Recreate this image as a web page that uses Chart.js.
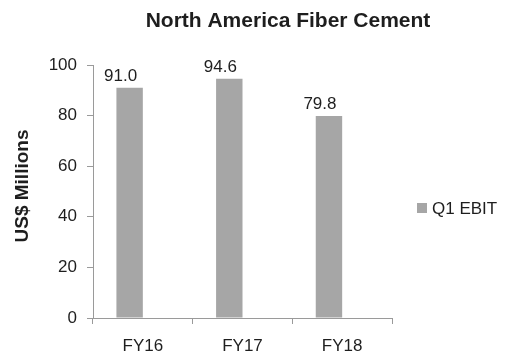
<!DOCTYPE html>
<html>
<head>
<meta charset="utf-8">
<script src="https://cdn.jsdelivr.net/npm/chart.js@4.4.1/dist/chart.umd.min.js"></script>
<style>
  html, body { margin: 0; padding: 0; background: #ffffff; }
  #wrap { width: 505px; height: 357px; position: relative; }
</style>
</head>
<body>
<div id="wrap"><canvas id="chart" width="505" height="357"></canvas></div>
<script>
// Q1 EBIT for the North America Fiber Cement segment
const categories = ['FY16', 'FY17', 'FY18'];
const q1Ebit = [91.0, 94.6, 79.8];
const emptySlot = [null, null, null];   // unused second slot in each group
const yTicks = [0, 20, 40, 60, 80, 100];
const seriesName = 'Q1 EBIT';
const chartTitle = 'North America Fiber Cement';
const yAxisTitle = 'US$ Millions';

const FONT = '"Liberation Sans", Arial, Helvetica, sans-serif';
const TEXT = '#1e1e1e';
const AXIS = '#9a9a9a';
const BAR = '#a6a6a6';

// Title, rotated axis title, value labels and the side legend
const decorations = {
  id: 'decorations',
  afterDatasetsDraw(chart) {
    const ctx = chart.ctx;
    ctx.save();
    ctx.fillStyle = TEXT;

    // chart title
    ctx.font = 'bold 21px ' + FONT;
    ctx.textAlign = 'center';
    ctx.textBaseline = 'middle';
    ctx.fillText(chartTitle, 288, 21);

    // y axis title
    ctx.save();
    ctx.translate(23, 186);
    ctx.rotate(-Math.PI / 2);
    ctx.font = 'bold 19px ' + FONT;
    ctx.fillText(yAxisTitle, 0, 0);
    ctx.restore();

    // value labels above each bar
    const meta = chart.getDatasetMeta(0);
    ctx.font = '17px ' + FONT;
    ctx.textBaseline = 'bottom';
    meta.data.forEach((bar, i) => {
      ctx.fillText(q1Ebit[i].toFixed(1), bar.x - 9, bar.y - 3);
    });

    // legend
    const ds = chart.data.datasets[0];
    ctx.fillStyle = ds.backgroundColor;
    ctx.fillRect(417, 203, 10, 10);
    ctx.fillStyle = TEXT;
    ctx.font = '17px ' + FONT;
    ctx.textAlign = 'left';
    ctx.textBaseline = 'middle';
    ctx.fillText(ds.label, 432, 209);
    ctx.restore();
  }
};

new Chart(document.getElementById('chart'), {
  type: 'bar',
  data: {
    labels: categories,
    datasets: [{
      label: seriesName,
      data: q1Ebit,
      backgroundColor: BAR,
      borderWidth: 0,
      categoryPercentage: 0.53,
      barPercentage: 1.0
    }, {
      label: '',
      data: emptySlot,
      backgroundColor: 'rgba(0,0,0,0)',
      borderWidth: 0,
      categoryPercentage: 0.53,
      barPercentage: 1.0
    }]
  },
  options: {
    responsive: false,
    animation: false,
    devicePixelRatio: 1,
    layout: { padding: { top: 65, left: 0, right: 113, bottom: 0 } },
    plugins: {
      legend: { display: false },
      title: { display: false },
      tooltip: { enabled: false }
    },
    scales: {
      x: {
        offset: true,
        grid: {
          offset: true,
          drawOnChartArea: false,
          drawTicks: true,
          tickLength: 6,
          color: AXIS
        },
        border: { display: true, color: AXIS, width: 1 },
        ticks: {
          color: TEXT,
          font: { family: FONT, size: 17 },
          padding: 12
        },
        afterFit(scale) { scale.height = 39; }
      },
      y: {
        min: 0,
        max: 100,
        afterBuildTicks(scale) {
          scale.ticks = yTicks.map(v => ({ value: v }));
        },
        grid: {
          drawOnChartArea: false,
          drawTicks: true,
          tickLength: 6,
          color: AXIS
        },
        border: { display: true, color: AXIS, width: 1 },
        ticks: {
          color: TEXT,
          font: { family: FONT, size: 17 },
          padding: 10
        },
        afterFit(scale) { scale.width = 93; }
      }
    }
  },
  plugins: [decorations]
});
</script>
</body>
</html>
